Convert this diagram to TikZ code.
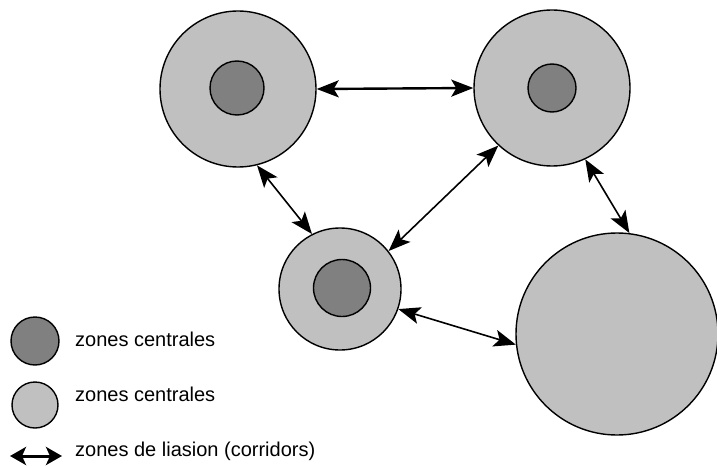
\documentclass[tikz,border=0pt]{standalone}
\usepackage{fontspec}
\setmainfont{Liberation Sans}
\usepackage{xcolor}
\usetikzlibrary{arrows.meta, positioning}

\definecolor{zonelight}{HTML}{C0C0C0}
\definecolor{zonedark}{HTML}{808080}

\begin{document}
\begin{tikzpicture}[
    x=1pt, y=-1pt,
    >={Stealth[length=22pt, width=17pt, inset=5pt]},
    zone/.style={circle, draw=black, line width=1.4pt, inner sep=0pt},
    outerzone/.style={zone, fill=zonelight},
    innerzone/.style={zone, fill=zonedark},
    corridor/.style={<->, line width=1.6pt},
    legendtext/.style={anchor=west, inner sep=0pt, font=\fontsize{20}{22}\selectfont},
]
    \useasboundingbox (0,0) rectangle (717,468);

    % ── Zones ─────────────────────────────────────
    \node[outerzone, minimum size=156pt] (zoneA) at (238,89) {};
    \node[innerzone, minimum size=54pt]  (coreA) at (237,88) {};

    \node[outerzone, minimum size=156pt] (zoneB) at (552,88) {};
    \node[innerzone, minimum size=48pt]  (coreB) at (552,88) {};

    \node[outerzone, minimum size=122pt] (zoneC) at (340,289) {};
    \node[innerzone, minimum size=57pt]  (coreC) at (342,288) {};

    \node[outerzone, minimum size=202pt] (zoneD) at (617,334) {};

    % ── Corridors ─────────────────────────────────
    \draw[corridor, line width=2.4pt] (zoneA.east) -- (zoneB.west);
    \draw[corridor] (zoneA.-76) -- (zoneC.117);
    \draw[corridor] (zoneB.-133) -- (zoneC.38);
    \draw[corridor] (zoneC.-19) -- (zoneD.186);
    \draw[corridor] (zoneB.-65) -- (zoneD.83);

    % ── Legend ────────────────────────────────────
    \node[innerzone, minimum size=48pt] (keyDark) at (35,341) {};
    \node[outerzone, minimum size=46pt] (keyLight) at (35,405) {};
    \coordinate (keyL) at (10,456);
    \coordinate (keyR) at (62,456);
    \draw[<->, line width=3pt, >={Stealth[length=16pt, width=18pt, inset=4pt]}] (keyL) -- (keyR);

    \node[legendtext] (txtDark)  at (75,339) {zones centrales};
    \node[legendtext] (txtLight) at (75,394) {zones centrales};
    \node[legendtext] (txtCorr)  at (75,451) {zones de liasion (corridors)};
\end{tikzpicture}
\end{document}
